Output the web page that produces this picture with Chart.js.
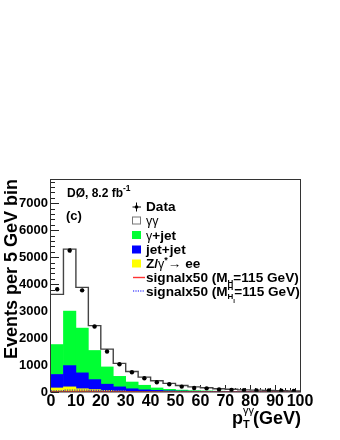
<!DOCTYPE html>
<html><head><meta charset="utf-8">
<script src="https://cdn.jsdelivr.net/npm/chart.js@4"></script>
<style>html,body{margin:0;padding:0;background:#fff}</style>
</head><body>
<canvas id="c" width="340" height="440"></canvas>
<script>
// ---- data ----
const binLow = [0,5,10,15,20,25,30,35,40,45,50,55,60,65,70,75,80,85,90,95];
const binWidth = 5;
const dataCounts  = [3810,5250,3770,2430,1500,1030,730,510,360,290,200,150,135,95,80,70,60,55,45,35];
const dataErrors  = [62,72,61,49,39,32,27,23,19,17,14,12,12,10,9,8,8,7,7,6];
const ggCounts    = [1860,2300,1510,920,660,480,390,300,270,220,170,140,120,90,75,60,54,47,40,32];
const gjetCounts  = [1110,2020,1660,1080,640,390,250,170,90,60,40,25,20,15,13,10,8,7,5,4];
const jetjetCounts= [500,790,590,370,230,150,95,65,50,32,24,20,16,12,9,8,6,4,4,3];
const zeeCounts   = [150,190,120,90,60,40,25,15,10,8,6,5,4,3,3,2,2,2,1,1];
const signalA     = [12,22,24,22,19,16,14,12,10,9,8,7,6,5,5,4,4,3,3,3];
const signalB     = [40,70,70,62,55,48,42,38,34,30,27,24,22,20,18,16,14,12,11,10];
const yTickValues = [0,1000,2000,3000,4000,5000,6000,7000];
const xTickValues = [0,10,20,30,40,50,60,70,80,90,100];
const yMax = 7900;
const xMax = 100;

// ---- derived tables ----
const centers = binLow.map(x => x + binWidth / 2);
const totals = binLow.map((_, i) => ggCounts[i] + gjetCounts[i] + jetjetCounts[i] + zeeCounts[i]);
const barData = arr => centers.map((x, i) => ({x, y: arr[i]}));
const stepData = arr => binLow.map((x, i) => ({x, y: arr[i]})).concat([{x: binLow[binLow.length-1] + binWidth, y: arr[arr.length-1]}]);

const FONT = '"Liberation Sans", Arial, Helvetica, sans-serif';

function richText(ctx, parts, x, y) {
  let cx = x;
  for (const p of parts) {
    ctx.font = (p.bold === false ? '' : 'bold ') + p.size + 'px ' + FONT;
    const w = ctx.measureText(p.t).width;
    ctx.fillText(p.t, cx + (p.dx || 0), y + (p.dy || 0));
    if (!p.noAdvance) cx += w + (p.dx || 0);
  }
  return cx;
}

const decor = {
  id: 'decor',
  beforeDatasetsDraw(chart) {
    const {ctx, chartArea: a, scales: {x, y}} = chart;
    ctx.save();
    ctx.strokeStyle = '#222';
    ctx.lineWidth = 1;
    ctx.beginPath();
    for (let v = 0; v <= yMax; v += 200) {
      const py = Math.round(y.getPixelForValue(v)) + 0.5;
      const len = (v % 1000 === 0) ? 8 : 4;
      ctx.moveTo(a.left, py); ctx.lineTo(a.left + len, py);
    }
    for (let v = 0; v <= xMax; v += 2) {
      const px = Math.round(x.getPixelForValue(v)) + 0.5;
      const len = (v % 10 === 0) ? 7 : 4;
      ctx.moveTo(px, a.bottom); ctx.lineTo(px, a.bottom - len);
    }
    ctx.stroke();
    ctx.restore();
  },
  afterDatasetsDraw(chart) {
    const {ctx, chartArea: a, scales: {x, y}} = chart;
    ctx.save();
    // data error bars
    const meta = chart.getDatasetMeta(0);
    ctx.strokeStyle = '#000'; ctx.lineWidth = 1;
    ctx.beginPath();
    meta.data.forEach((pt, i) => {
      const px = Math.round(pt.x) + 0.5;
      ctx.moveTo(px, y.getPixelForValue(dataCounts[i] + dataErrors[i]));
      ctx.lineTo(px, y.getPixelForValue(dataCounts[i] - dataErrors[i]));
    });
    ctx.stroke();
    // frame
    ctx.strokeStyle = '#333'; ctx.lineWidth = 1;
    ctx.strokeRect(Math.round(a.left) - 0.5, Math.round(a.top) + 0.5, Math.round(a.right - a.left) + 1, Math.round(a.bottom - a.top) - 0.5);

    ctx.fillStyle = '#000';
    ctx.textBaseline = 'alphabetic';
    ctx.textAlign = 'left';
    // experiment label
    const e = richText(ctx, [{t: 'DØ, 8.2 fb', size: 12}], 67, 196.5);
    richText(ctx, [{t: '-1', size: 8.5}], e, 191);
    richText(ctx, [{t: '(c)', size: 13}], 66, 220);

    // legend
    const lx = 132, tx = 146, fs = 13.6;
    const rows = [206.5, 220.5, 235, 249.5, 263.5, 277.5, 291];
    // Data marker
    ctx.strokeStyle = '#000'; ctx.lineWidth = 1;
    ctx.beginPath();
    ctx.moveTo(lx + 0.5, rows[0] + 0.5); ctx.lineTo(lx + 9, rows[0] + 0.5);
    ctx.moveTo(lx + 4.5, rows[0] - 4); ctx.lineTo(lx + 4.5, rows[0] + 5);
    ctx.stroke();
    ctx.beginPath(); ctx.arc(lx + 4.5, rows[0] + 0.5, 1.8, 0, Math.PI * 2); ctx.fill();
    // boxes
    const boxes = [['#ffffff', rows[1]], ['#00ff33', rows[2]], ['#0000ff', rows[3]], ['#ffff00', rows[4]]];
    boxes.forEach(([c, r]) => {
      ctx.fillStyle = c; ctx.fillRect(lx, r - 4, 9, 8);
    });
    ctx.strokeStyle = '#777';
    ctx.strokeRect(lx + 0.5, rows[1] - 3.5, 8, 7);
    // signal lines
    ctx.strokeStyle = '#ff3333'; ctx.lineWidth = 1.4;
    ctx.beginPath(); ctx.moveTo(lx + 1, rows[5]); ctx.lineTo(lx + 13, rows[5]); ctx.stroke();
    ctx.strokeStyle = '#0000ff'; ctx.lineWidth = 1.2; ctx.setLineDash([1.2, 1.2]);
    ctx.beginPath(); ctx.moveTo(lx + 1, rows[6]); ctx.lineTo(lx + 13, rows[6]); ctx.stroke();
    ctx.setLineDash([]);

    ctx.fillStyle = '#000';
    const b = 4.8;
    richText(ctx, [{t: 'Data', size: fs}], tx, rows[0] + b);
    richText(ctx, [{t: 'γγ', size: 12.5, bold: false}], tx, rows[1] + b);
    richText(ctx, [{t: 'γ', size: 12.5, bold: false}, {t: '+jet', size: fs}], tx, rows[2] + b);
    richText(ctx, [{t: 'jet+jet', size: fs}], tx, rows[3] + b);
    richText(ctx, [{t: 'Z/', size: fs}, {t: 'γ', size: 12.5, bold: false}, {t: '*', size: 9, dy: -5}, {t: '→ ee', size: fs}], tx, rows[4] + b);
    richText(ctx, [{t: 'signalx50 (M', size: fs}, {t: 'H', size: 8, dy: 3}, {t: '=115 GeV)', size: fs}], tx, rows[5] + b);
    let sx = richText(ctx, [{t: 'signalx50 (M', size: fs}], tx, rows[6] + b);
    richText(ctx, [{t: 'H', size: 8, dy: -6, noAdvance: true}], sx, rows[6] + b);
    sx = richText(ctx, [{t: 'H', size: 8, dy: 3}], sx, rows[6] + b);
    richText(ctx, [{t: 'l', size: 6, dy: 7}], sx, rows[6] + b);
    richText(ctx, [{t: '=115 GeV)', size: fs}], sx + 1, rows[6] + b);

    // axis titles
    ctx.save();
    ctx.translate(17, 269);
    ctx.rotate(-Math.PI / 2);
    ctx.textAlign = 'center';
    ctx.font = 'bold 18px ' + FONT;
    ctx.fillText('Events per 5 GeV bin', 0, 0);
    ctx.restore();

    ctx.textAlign = 'left';
    let px = richText(ctx, [{t: 'p', size: 18}], 232, 424);
    richText(ctx, [{t: 'γγ', size: 11, bold: false, dy: -10, noAdvance: true}], px, 424);
    px = richText(ctx, [{t: 'T', size: 11, dy: 4}], px, 424);
    ctx.textAlign = 'right';
    ctx.font = 'bold 18px ' + FONT;
    ctx.fillText('(GeV)', a.right + 1, 424);
    ctx.restore();
  }
};

new Chart(document.getElementById('c'), {
  type: 'bar',
  data: {
    datasets: [
      {type: 'line', label: 'Data', data: barData(dataCounts), showLine: false, stack: 'data',
       pointRadius: 2.2, pointBackgroundColor: '#000', pointBorderColor: '#000', pointBorderWidth: 0},
      {type: 'line', label: 'total', data: stepData(totals), stepped: 'before', stack: 'total',
       borderColor: '#444', borderWidth: 1.4, pointRadius: 0, fill: false},
      {type: 'line', label: 'signalA', data: stepData(signalA), stepped: 'before', stack: 'sigA',
       borderColor: '#ff3333', borderWidth: 1, pointRadius: 0, fill: false},
      {type: 'line', label: 'signalB', data: stepData(signalB), stepped: 'before', stack: 'sigB',
       borderColor: '#0000ff', borderWidth: 1, borderDash: [1.2, 1.2], pointRadius: 0, fill: false},
      {label: 'Z/γ*→ee', data: barData(zeeCounts), backgroundColor: '#ffff00', borderWidth: 0},
      {label: 'jet+jet', data: barData(jetjetCounts), backgroundColor: '#0000ff', borderWidth: 0},
      {label: 'γ+jet', data: barData(gjetCounts), backgroundColor: '#00ff33', borderWidth: 0},
      {label: 'γγ', data: barData(ggCounts), backgroundColor: '#ffffff', borderWidth: 0}
    ]
  },
  options: {
    responsive: false,
    animation: false,
    events: [],
    barPercentage: 1,
    categoryPercentage: 1,
    layout: {padding: {top: 179, left: 0, right: 40, bottom: 0}},
    plugins: {legend: {display: false}, tooltip: {enabled: false}},
    scales: {
      x: {
        type: 'linear', min: 0, max: xMax, stacked: true, offset: false,
        grid: {display: false, drawTicks: false},
        border: {display: false},
        afterBuildTicks: s => { s.ticks = xTickValues.map(v => ({value: v})); },
        afterFit: s => { s.height = 48; },
        ticks: {font: {family: FONT, size: 16, weight: 'bold'}, color: '#000', padding: 0, maxRotation: 0, autoSkip: false,
                callback: v => String(v)}
      },
      y: {
        type: 'linear', min: 0, max: yMax, stacked: true,
        grid: {display: false, drawTicks: false},
        border: {display: false},
        afterBuildTicks: s => { s.ticks = yTickValues.map(v => ({value: v})); },
        afterFit: s => { s.width = 51; },
        ticks: {font: {family: FONT, size: 13, weight: 'bold'}, color: '#000', padding: 3, autoSkip: false,
                callback: v => String(v)}
      }
    }
  },
  plugins: [decor]
});
</script>
</body></html>
